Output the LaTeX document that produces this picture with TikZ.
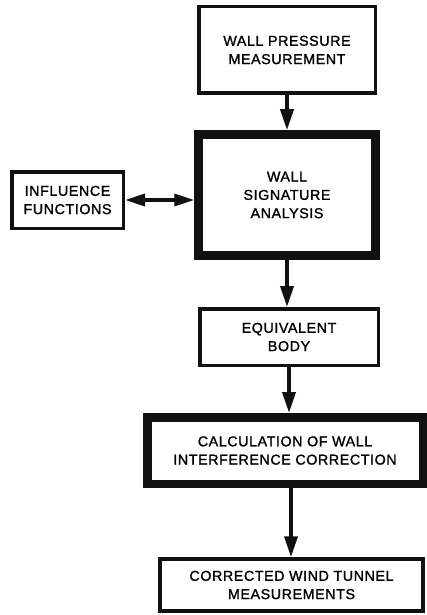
\documentclass[tikz,border=0pt]{standalone}
\usepackage{fontspec}
\setmainfont[LetterSpace=4,FakeBold=1.3]{Liberation Sans}
\usepackage{tikz}
\usetikzlibrary{arrows.meta,positioning,calc}
\definecolor{ink}{HTML}{111111}
\tikzset{
  box/.style      ={draw=ink, fill=white, line width=3.5pt,
                    align=center, inner sep=2pt,
                    font=\fontsize{14.3}{18.3}\selectfont},
  thickbox/.style ={box, line width=8.5pt},
  arr/.style      ={-{Triangle[length=21pt,width=13pt]}, line width=3.8pt, draw=ink},
  darr/.style     ={{Triangle[length=20pt,width=12pt]}-{Triangle[length=20pt,width=12pt]},
                    line width=3.5pt, draw=ink},
}

\begin{document}
\begin{tikzpicture}[x=1pt,y=-1pt]
  \useasboundingbox (0,0) rectangle (427,615);

  \node[box,minimum width=176.5pt,minimum height=86.5pt] (wpm) at (287,50)
       {WALL PRESSURE\\MEASUREMENT};
  \node[thickbox,minimum width=177pt,minimum height=121pt] (wsa) at (287,195)
       {WALL\\SIGNATURE\\ANALYSIS};
  \node[box,minimum width=111.5pt,minimum height=56.5pt] (infl) at (67.5,200)
       {INFLUENCE\\FUNCTIONS};
  \node[box,minimum width=178.5pt,minimum height=56.5pt] (eqb) at (289,337)
       {EQUIVALENT\\BODY};
  \node[thickbox,minimum width=275.5pt,minimum height=66.5pt] (calc) at (285,450.5)
       {CALCULATION OF WALL\\INTERFERENCE CORRECTION};
  \node[box,minimum width=263pt,minimum height=52pt] (cwt) at (291.5,585)
       {CORRECTED WIND TUNNEL\\MEASUREMENTS};

  \draw[arr] (wpm) -- (wsa);
  \draw[darr] (infl.east) -- (infl.east -| wsa.west);
  \draw[arr] (wsa.south) -- (wsa.south |- eqb.north);
  \draw[arr] (eqb.south) -- (eqb.south |- calc.north);
  \draw[arr] (calc.south -| eqb.south) ++(2,0) coordinate (c4) -- (c4 |- cwt.north);
\end{tikzpicture}
\end{document}
